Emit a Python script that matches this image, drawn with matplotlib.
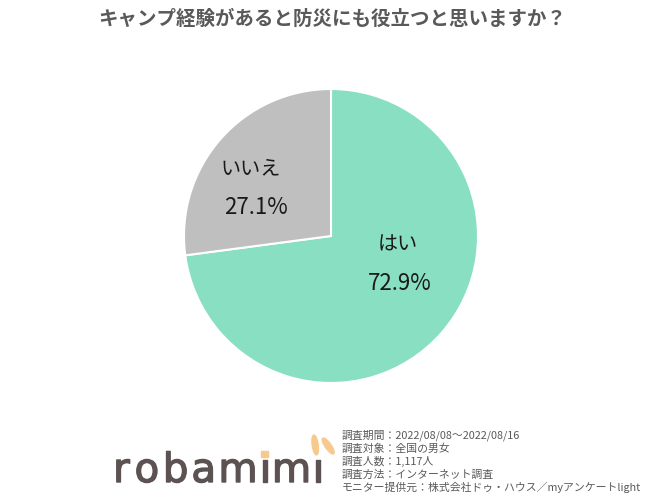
import matplotlib.pyplot as plt
import matplotlib.patches as mpatches
import matplotlib.patheffects as pe
from matplotlib.textpath import TextPath
from matplotlib.font_manager import FontProperties

plt.rcParams['font.family'] = ['Noto Sans CJK JP', 'DejaVu Sans']

# data
labels = ['はい', 'いいえ']
values = [72.9, 27.1]
colors = ['#89dfc2', '#bfbfbf']

title = 'キャンプ経験があると防災にも役立つと思いますか？'
notes = [
    '調査期間：2022/08/08～2022/08/16',
    '調査対象：全国の男女',
    '調査人数：1,117人',
    '調査方法：インターネット調査',
    'モニター提供元：株式会社ドゥ・ハウス／myアンケートlight',
]

W, H = 665, 500
fig = plt.figure(figsize=(W / 100, H / 100), dpi=100)
fig.patch.set_facecolor('white')

# pie axes: center (331, 236), radius 147 px
r = 147
cx, cy = 331, 236
ax = fig.add_axes([(cx - r) / W, 1 - (cy + r) / H, 2 * r / W, 2 * r / H])
ax.pie(values, colors=colors, startangle=90, counterclock=False,
       wedgeprops=dict(edgecolor='white', linewidth=1.5))
ax.set_xlim(-1, 1)
ax.set_ylim(-1, 1)
ax.set_aspect('equal')
ax.axis('off')

# labels (pixel offsets converted to data units)
def px(x, y):
    return (x - cx) / r, (cy - y) / r

label_pos = {'はい': [(398, 245), (400, 284)], 'いいえ': [(251, 169), (256, 208)]}
for lab, val in zip(labels, values):
    (x1, y1), (x2, y2) = label_pos[lab]
    ax.text(*px(x1, y1), lab, ha='center', va='center', fontsize=14.5, color='#1a1a1a')
    ax.text(*px(x2, y2), f'{val:.1f}%', ha='center', va='center', fontsize=16, color='#1a1a1a')

# title
fig.text(0.5, 1 - 19 / H, title, ha='center', va='center', fontsize=14,
         fontweight='bold', color='#595959')

# footnotes
for i, line in enumerate(notes):
    fig.text(342 / W, 1 - (435 + i * 13.2) / H, line, ha='left', va='center',
             fontsize=7.8, color='#595959')

# logo: letters spread evenly between x=115 and x=320
logo = 'robamımı'
fsize = 29
fp = FontProperties(family='DejaVu Sans')
widths = [TextPath((0, 0), ch, size=fsize * 100 / 72, prop=fp).get_extents().width
          for ch in logo]
left, right = 115, 320
gap = (right - left - sum(widths)) / (len(logo) - 1)
x = left
lx = []
for w in widths:
    lx.append(x + w / 2)
    x += w + gap

lax = fig.add_axes([0, 0, 1, 1], zorder=-1)
lax.set_xlim(0, W)
lax.set_ylim(H, 0)
lax.axis('off')
for ch, xc in zip(logo, lx):
    lax.text(xc, 482, ch, ha='center', va='baseline', fontsize=fsize,
             color='#5c5252', family='DejaVu Sans',
             path_effects=[pe.withStroke(linewidth=1.0, foreground='#5c5252')])
# orange dot on the first i, ears on the last
lax.add_patch(mpatches.Rectangle((lx[5] - 3.5, 451), 7, 6, color='#f8c98f'))
lax.add_patch(mpatches.Ellipse((lx[7] - 3, 445), 6, 20, angle=-8, color='#f8c98f'))
lax.add_patch(mpatches.Ellipse((lx[7] + 10, 446), 6, 19, angle=-35, color='#f8c98f'))

fig.savefig('out.png', dpi=100, facecolor='white')
